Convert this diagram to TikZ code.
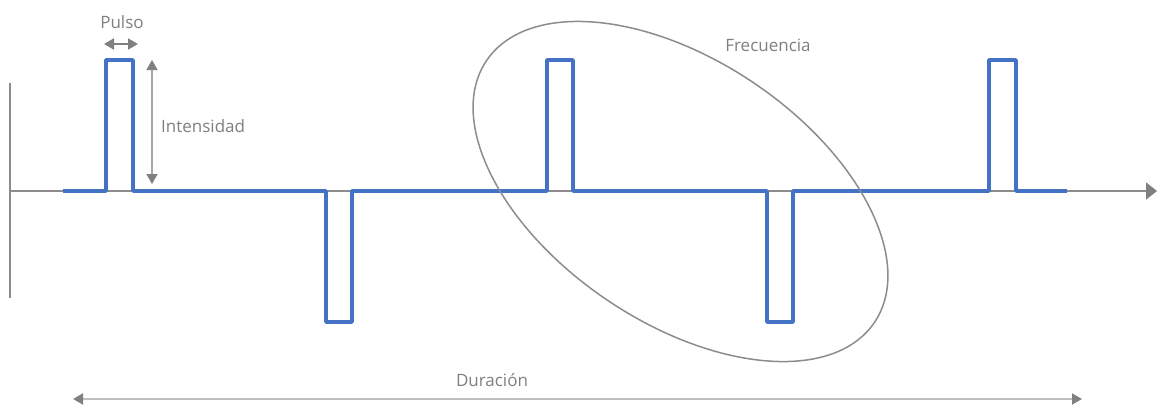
\documentclass[tikz,border=0pt]{standalone}
\usepackage{fontspec}
\setmainfont{Open Sans}
\usetikzlibrary{arrows.meta}
\definecolor{signal}{HTML}{4472C4}
\definecolor{axisgray}{HTML}{8C8C8C}
\definecolor{dimgray}{HTML}{A6A6A6}
\definecolor{spangray}{HTML}{BFBFBF}
\definecolor{tipgray}{HTML}{808080}
\definecolor{labelgray}{HTML}{7F7F7F}
\tikzset{
  tri/.tip={Triangle[length=10pt,width=11pt,color=tipgray]},
  signalline/.style={signal, line width=3.6pt, line join=round},
  axisline/.style={axisgray, line width=1.6pt},
  dimline/.style={dimgray, line width=1.5pt, tri-tri},
  spanline/.style={spangray, line width=2pt, tri-tri},
  lbl/.style={text=labelgray, font=\fontsize{17}{20}\selectfont, inner sep=0pt}
}
\begin{document}
\begin{tikzpicture}[x=1pt,y=-1pt]
\useasboundingbox (0,0) rectangle (1157,410);

% axes
\coordinate (vtop) at (10,83);
\coordinate (vbot) at (10,298);
\coordinate (origin) at (10,191);
\coordinate (tend) at (1157,191);
\draw[axisline] (vtop) -- (vbot);
\draw[axisline, -{Triangle[length=11pt,width=17pt,color=tipgray]}] (origin) -- (tend);

% pulse train
\draw[signalline] (63,191) -- (106,191) -- (106,60) -- (133,60) -- (133,191)
  -- (326,191) -- (326,322) -- (352,322) -- (352,191)
  -- (547,191) -- (547,60) -- (573,60) -- (573,191)
  -- (767,191) -- (767,322) -- (793,322) -- (793,191)
  -- (989,191) -- (989,60) -- (1016,60) -- (1016,191) -- (1067,191);

% pulse width
\coordinate (pl) at (104,44);
\coordinate (pr) at (138,44);
\draw[dimline, tipgray, line width=2pt] (pl) -- (pr);
\node[lbl] (pulso) at (122,22) {Pulso};

% intensity
\coordinate (it) at (152,60);
\coordinate (ib) at (152,184);
\draw[dimline] (it) -- (ib);
\node[lbl, anchor=west] (intensidad) at (161,126) {Intensidad};

% frequency
\draw[axisgray, line width=1.5pt, rotate around={-34:(680.5,191.5)}]
  (680.5,191.5) ellipse [x radius=234, y radius=131];
\node[lbl] (frecuencia) at (768,45) {Frecuencia};

% duration
\coordinate (dl) at (73,399);
\coordinate (dr) at (1082,399);
\draw[spanline] (dl) -- (dr);
\node[lbl] (duracion) at (492,380) {Duración};
\end{tikzpicture}
\end{document}
